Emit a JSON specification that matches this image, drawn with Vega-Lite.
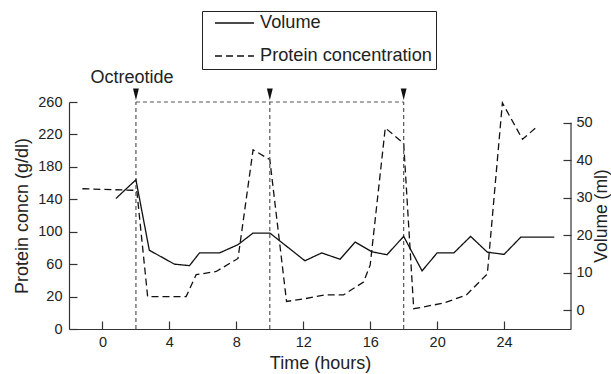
{
  "$schema": "https://vega.github.io/schema/vega-lite/v6.json",
  "width": 502,
  "height": 227,
  "autosize": {"type": "none"},
  "padding": {"left": 69, "top": 102, "right": 40, "bottom": 45},
  "background": "white",
  "config": {
    "view": {"stroke": null},
    "font": "Liberation Sans",
    "axis": {
      "grid": false,
      "domainColor": "#333",
      "tickColor": "#333",
      "domainWidth": 1.2,
      "tickWidth": 1.2,
      "tickSize": -8,
      "labelOverlap": false,
      "labelFontSize": 14.5,
      "labelColor": "#222",
      "titleFontSize": 18,
      "titleFontWeight": "normal",
      "titleColor": "#222",
      "labelFont": "Liberation Sans",
      "titleFont": "Liberation Sans"
    },
    "legend": {
      "title": null,
      "symbolType": "stroke",
      "symbolSize": 1521,
      "symbolStrokeWidth": 1.3,
      "symbolStrokeColor": "#111",
      "symbolOffset": 8,
      "labelFontSize": 18.2,
      "labelLimit": 400,
      "labelColor": "#222",
      "labelFont": "Liberation Sans",
      "labelOffset": 5,
      "clipHeight": 16,
      "rowPadding": 14,
      "padding": 4,
      "strokeColor": "#222",
      "fillColor": "white"
    }
  },
  "datasets": {
    "series": [
      {"series": "Protein concentration", "time": -1.2, "value": 153},
      {"series": "Protein concentration", "time": 2.05, "value": 151},
      {"series": "Protein concentration", "time": 2.7, "value": 20},
      {"series": "Protein concentration", "time": 5.0, "value": 20},
      {"series": "Protein concentration", "time": 5.6, "value": 47},
      {"series": "Protein concentration", "time": 6.8, "value": 51},
      {"series": "Protein concentration", "time": 8.1, "value": 67},
      {"series": "Protein concentration", "time": 9.0, "value": 201},
      {"series": "Protein concentration", "time": 10.0, "value": 189},
      {"series": "Protein concentration", "time": 11.0, "value": 14},
      {"series": "Protein concentration", "time": 12.0, "value": 17},
      {"series": "Protein concentration", "time": 13.3, "value": 22},
      {"series": "Protein concentration", "time": 14.4, "value": 22},
      {"series": "Protein concentration", "time": 15.6, "value": 38},
      {"series": "Protein concentration", "time": 16.0, "value": 59},
      {"series": "Protein concentration", "time": 16.9, "value": 228},
      {"series": "Protein concentration", "time": 18.0, "value": 209},
      {"series": "Protein concentration", "time": 18.6, "value": 5},
      {"series": "Protein concentration", "time": 20.4, "value": 12},
      {"series": "Protein concentration", "time": 21.75, "value": 22},
      {"series": "Protein concentration", "time": 23.0, "value": 48},
      {"series": "Protein concentration", "time": 23.9, "value": 259},
      {"series": "Protein concentration", "time": 25.1, "value": 214},
      {"series": "Protein concentration", "time": 26.0, "value": 230},
      {"series": "Volume", "time": 0.8, "value": 29.8},
      {"series": "Volume", "time": 2.0, "value": 34.8},
      {"series": "Volume", "time": 2.8, "value": 16.0},
      {"series": "Volume", "time": 4.3, "value": 12.3},
      {"series": "Volume", "time": 5.2, "value": 11.9},
      {"series": "Volume", "time": 5.8, "value": 15.3},
      {"series": "Volume", "time": 7.0, "value": 15.3},
      {"series": "Volume", "time": 8.1, "value": 17.5},
      {"series": "Volume", "time": 9.0, "value": 20.6},
      {"series": "Volume", "time": 10.0, "value": 20.6},
      {"series": "Volume", "time": 12.1, "value": 13.2},
      {"series": "Volume", "time": 13.1, "value": 15.3},
      {"series": "Volume", "time": 14.2, "value": 13.6},
      {"series": "Volume", "time": 15.1, "value": 18.2},
      {"series": "Volume", "time": 16.1, "value": 15.6},
      {"series": "Volume", "time": 17.0, "value": 14.8},
      {"series": "Volume", "time": 18.0, "value": 19.7},
      {"series": "Volume", "time": 19.1, "value": 10.5},
      {"series": "Volume", "time": 20.0, "value": 15.3},
      {"series": "Volume", "time": 21.0, "value": 15.3},
      {"series": "Volume", "time": 22.0, "value": 19.7},
      {"series": "Volume", "time": 23.0, "value": 15.5},
      {"series": "Volume", "time": 24.0, "value": 14.9},
      {"series": "Volume", "time": 25.0, "value": 19.5},
      {"series": "Volume", "time": 27.0, "value": 19.5}
    ],
    "doses": [
      {"time": 2, "label": "Octreotide"},
      {"time": 10, "label": ""},
      {"time": 18, "label": ""}
    ]
  },
  "layer": [
    {
      "data": {"name": "series"},
      "transform": [{"filter": "datum.series == 'Protein concentration'"}],
      "mark": {"type": "line", "color": "#111", "strokeWidth": 1.3},
      "encoding": {
        "x": {
          "field": "time", "type": "quantitative",
          "scale": {"domain": [-2, 28], "nice": false, "zero": false},
          "axis": {"values": [0, 2, 4, 6, 8, 10, 12, 14, 16, 18, 20, 22, 24, 26], "labelExpr": "datum.value % 4 == 0 ? datum.label : ''", "labelOverlap": false, "title": "Time (hours)", "labelPadding": 14, "titlePadding": 6}
        },
        "y": {
          "field": "value", "type": "quantitative",
          "scale": {"domain": [-20, 260], "nice": false, "zero": false},
          "axis": {"values": [-20, 20, 60, 100, 140, 180, 220, 260], "labelExpr": "datum.value == -20 ? '0' : datum.label", "labelOverlap": false, "title": "Protein concn (g/dl)", "labelPadding": 15, "titlePadding": 6}
        },
        "strokeDash": {
          "field": "series", "type": "nominal",
          "scale": {"domain": ["Volume", "Protein concentration"], "range": [[1, 0], [7, 4]]},
          "legend": {"orient": "none", "legendX": 133, "legendY": -91}
        }
      }
    },
    {
      "layer": [
        {
          "data": {"name": "doses"},
          "mark": {"type": "rule", "color": "#555", "strokeWidth": 1.2, "strokeDash": [4, 3]},
          "encoding": {
            "x": {"field": "time", "type": "quantitative"},
            "y": {"datum": -20, "type": "quantitative", "scale": {"domain": [-20, 260], "nice": false, "zero": false}, "axis": null},
            "y2": {"datum": 260}
          }
        },
        {
          "data": {"name": "doses"},
          "mark": {"type": "rule", "color": "#555", "strokeWidth": 1.2, "strokeDash": [4, 3]},
          "transform": [{"filter": "datum.time == 2"}],
          "encoding": {
            "x": {"field": "time", "type": "quantitative"},
            "x2": {"datum": 18},
            "y": {"datum": 260, "type": "quantitative", "axis": null}
          }
        },
        {
          "data": {"name": "doses"},
          "mark": {"type": "point", "shape": "M-0.5,-1L0.5,-1L0,1Z", "size": 137, "filled": true, "color": "#111", "opacity": 1},
          "encoding": {
            "x": {"field": "time", "type": "quantitative"},
            "y": {"datum": 269.3, "type": "quantitative", "axis": null}
          }
        },
        {
          "data": {"name": "doses"},
          "mark": {"type": "text", "fontSize": 18, "font": "Liberation Sans", "color": "#222", "align": "center", "baseline": "middle", "dx": -4},
          "encoding": {
            "x": {"field": "time", "type": "quantitative"},
            "y": {"datum": 289.2, "type": "quantitative", "axis": null},
            "text": {"field": "label"}
          }
        }
      ]
    },
    {
      "layer": [
        {
          "data": {"name": "series"},
          "transform": [{"filter": "datum.series == 'Volume'"}],
          "mark": {"type": "line", "color": "#111", "strokeWidth": 1.3},
          "encoding": {
            "x": {"field": "time", "type": "quantitative"},
            "y": {
              "field": "value", "type": "quantitative",
              "scale": {"domain": [-5, 55.55], "nice": false, "zero": false},
              "axis": {"orient": "right", "domain": false, "values": [0, 10, 20, 30, 40, 50], "labelOverlap": false, "title": "Volume (ml)", "titleAngle": 270, "titleBaseline": "top", "titleFontSize": 17.5, "labelPadding": 13, "titlePadding": 0}
            },
            "strokeDash": {
              "field": "series", "type": "nominal",
              "scale": {"domain": ["Volume", "Protein concentration"], "range": [[1, 0], [7, 4]]},
              "legend": {"orient": "none", "legendX": 133, "legendY": -91}
            }
          }
        },
        {
          "data": {"values": [{"time": 28, "low": -5, "high": 50}]},
          "mark": {"type": "rule", "color": "#333", "strokeWidth": 1.2},
          "encoding": {
            "x": {"field": "time", "type": "quantitative"},
            "y": {"field": "low", "type": "quantitative"},
            "y2": {"field": "high"}
          }
        }
      ]
    }
  ],
  "resolve": {"scale": {"y": "independent"}}
}
